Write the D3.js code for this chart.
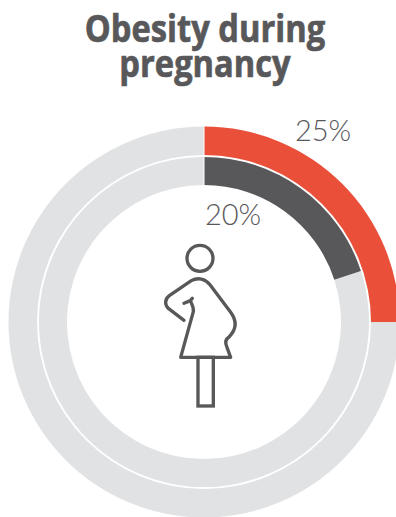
<!DOCTYPE html>
<html><head><meta charset="utf-8">
<style>html,body{margin:0;padding:0;background:#fff;overflow:hidden}svg{display:block}</style>
<script src="https://cdn.jsdelivr.net/npm/d3@7"></script></head>
<body><svg id="c" width="396" height="517"></svg>
<script>
const titleLines = ["Obesity during", "pregnancy"];
const ringNames = ["outer", "inner"];
const ringValues = [25, 20];
const ringLabels = ["25%", "20%"];
const ringColors = ["#EA4F3A", "#58585A"];
const restColor = "#E1E2E4", ink = "#58585A";

const svg = d3.select("#c");
const cx = 204, cy = 322;
const angle = d3.scaleLinear().domain([0, 100]).range([0, 2 * Math.PI]);
const radii = [[167, 195.5], [137, 165]];
const labelPos = [[323, 141], [233, 225]];
const g = svg.append("g").attr("transform", `translate(${cx},${cy})`);

ringNames.forEach((n, i) => {
  const arc = d3.arc().innerRadius(radii[i][0]).outerRadius(radii[i][1]);
  g.append("path").attr("class", "rest " + n).attr("fill", restColor)
    .attr("d", arc({startAngle: angle(ringValues[i]), endAngle: angle(100)}));
  g.append("path").attr("class", "value " + n).attr("fill", ringColors[i])
    .attr("d", arc({startAngle: angle(0), endAngle: angle(ringValues[i])}));
  svg.append("text").attr("x", labelPos[i][0]).attr("y", labelPos[i][1])
    .attr("text-anchor", "middle").attr("font-family", "Lato").attr("font-weight", 300)
    .attr("font-size", 29).attr("fill", ink).text(ringLabels[i]);
});
g.append("line").attr("x1", 0).attr("x2", 0).attr("y1", -196).attr("y2", -137)
  .attr("stroke", "#fff").attr("stroke-width", 1);

titleLines.forEach((t, i) => {
  const y = [42, 77][i];
  svg.append("text").attr("transform", `translate(205,${y}) scale(0.86,1)`)
    .attr("text-anchor", "middle").attr("font-family", "Open Sans").attr("font-weight", 700)
    .attr("font-size", 38).attr("fill", ink).attr("stroke", ink).attr("stroke-width", 0.7).text(t);
});

const fig = svg.append("g").attr("transform", "translate(130,230) scale(0.3333)")
  .attr("fill", "none").attr("stroke", ink).attr("stroke-width", 10)
  .attr("stroke-linejoin", "round").attr("stroke-linecap", "round");
fig.append("circle").attr("cx", 210).attr("cy", 85).attr("r", 39);
fig.append("path").attr("d",
  "M162,271 L116,236 C104,226 103,208 118,197 L184,152 C204,141 226,146 240,164 L302,247 C322,274 318,300 297,321 C284,329 286,341 291,352 L302,382 L152,382 L190,245 C192,232 186,224 181,212 L162,220 M181,212 L187,205");
fig.append("rect").attr("x", 204).attr("y", 382).attr("width", 46).attr("height", 146)
  .attr("stroke-linejoin", "miter");
</script></body></html>
